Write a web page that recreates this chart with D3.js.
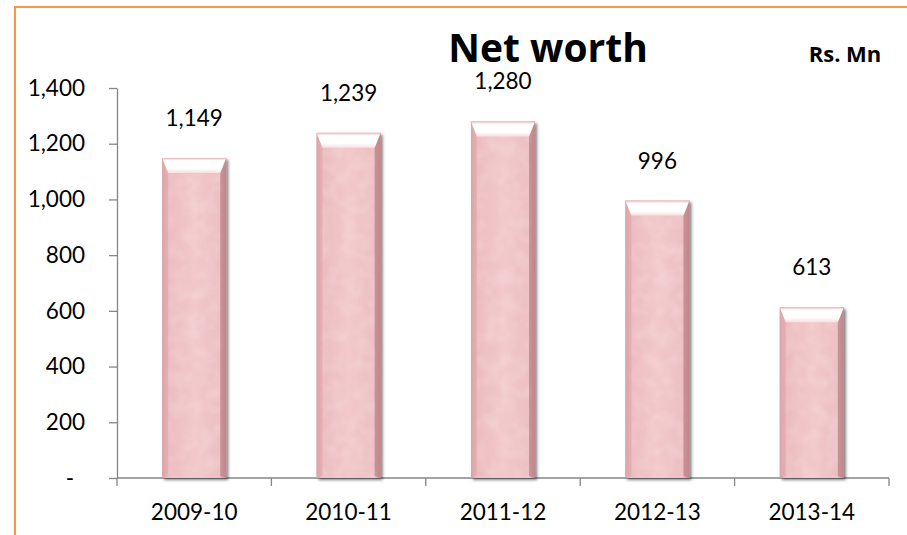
<!DOCTYPE html>
<html>
<head>
<meta charset="utf-8">
<script src="https://cdn.jsdelivr.net/npm/d3@7"></script>
<style>
  html, body { margin: 0; padding: 0; background: #fff; }
  svg { display: block; }
  text { font-family: Lato, "Open Sans", sans-serif; fill: #000; }
</style>
</head>
<body>
<div id="chart"></div>
<script>
/* Net worth — bar chart, Rs. Mn */

const years = ["2009-10", "2010-11", "2011-12", "2012-13", "2013-14"];
const netWorth = [1149, 1239, 1280, 996, 613];
const yTicks = [0, 200, 400, 600, 800, 1000, 1200, 1400];

const W = 907, H = 535;
const margin = { top: 88, right: 18, bottom: 57, left: 117 };

const svg = d3.select("#chart").append("svg")
  .attr("width", W).attr("height", H)
  .attr("viewBox", `0 0 ${W} ${H}`);

const defs = svg.append("defs");

/* bar body: soft pink, darker towards the sides */
const bodyGrad = defs.append("linearGradient")
  .attr("id", "body").attr("x1", 0).attr("x2", 1).attr("y1", 0).attr("y2", 0);
bodyGrad.append("stop").attr("offset", "0%").attr("stop-color", "#d29ca1");
bodyGrad.append("stop").attr("offset", "8%").attr("stop-color", "#ecbcbf");
bodyGrad.append("stop").attr("offset", "50%").attr("stop-color", "#f2c8ca");
bodyGrad.append("stop").attr("offset", "90%").attr("stop-color", "#edc0c3");
bodyGrad.append("stop").attr("offset", "100%").attr("stop-color", "#c28a8f");

/* top bevel: pink rim, then a strong white highlight */
const topGrad = defs.append("linearGradient")
  .attr("id", "bevelTop")
  .attr("x1", 0).attr("x2", 0).attr("y1", 0).attr("y2", 1);
topGrad.append("stop").attr("offset", "0%").attr("stop-color", "#e8b6b9");
topGrad.append("stop").attr("offset", "18%").attr("stop-color", "#ffffff");
topGrad.append("stop").attr("offset", "70%").attr("stop-color", "#ffffff");
topGrad.append("stop").attr("offset", "100%").attr("stop-color", "#f7dfe0");

const shadow = defs.append("filter").attr("id", "shadow")
  .attr("x", "-20%").attr("y", "-10%").attr("width", "150%").attr("height", "130%");
shadow.append("feDropShadow")
  .attr("dx", 2).attr("dy", 2).attr("stdDeviation", 1.8)
  .attr("flood-color", "#000").attr("flood-opacity", 0.5);

const noise = defs.append("filter").attr("id", "mottle");
noise.append("feTurbulence").attr("type", "fractalNoise")
  .attr("baseFrequency", 0.07).attr("numOctaves", 2).attr("seed", 4).attr("result", "n");
noise.append("feColorMatrix").attr("in", "n").attr("type", "matrix")
  .attr("values", "0 0 0 0 1  0 0 0 0 1  0 0 0 0 1  0 0 0 -1.6 1.0").attr("result", "m");
noise.append("feComposite").attr("in", "m").attr("in2", "SourceGraphic").attr("operator", "in");

/* orange frame */
svg.append("rect")
  .attr("x", 15).attr("y", 7)
  .attr("width", W).attr("height", H)
  .attr("fill", "none")
  .attr("stroke", "#f79646").attr("stroke-width", 2);

/* scales */
const x = d3.scaleBand()
  .domain(years)
  .range([margin.left, W - margin.right])
  .paddingInner(0.585).paddingOuter(0.2925);

const y = d3.scaleLinear()
  .domain([0, 1400])
  .range([H - margin.bottom, margin.top]);

const axisColor = "#868686";
const fontSize = "22.5px";

/* y axis */
svg.append("g")
  .attr("transform", `translate(${margin.left},0)`)
  .call(d3.axisLeft(y).tickValues(yTicks).tickSize(8).tickSizeOuter(0)
    .tickFormat(d => d === 0 ? "-" : d3.format(",")(d)))
  .call(g => g.select(".domain").attr("stroke", axisColor).attr("stroke-width", 1.3))
  .call(g => g.selectAll(".tick line").attr("stroke", axisColor).attr("stroke-width", 1.3))
  .call(g => g.selectAll(".tick text")
    .attr("x", d => d === 0 ? -43 : -32)
    .style("font-size", fontSize).attr("fill", "#000"));

/* x axis with ticks between categories */
const xBoundaries = d3.range(years.length + 1)
  .map(i => margin.left + i * x.step());

const xAxis = svg.append("g")
  .attr("transform", `translate(0,${y(0)})`);
xAxis.append("line")
  .attr("x1", margin.left).attr("x2", W - margin.right)
  .attr("stroke", axisColor).attr("stroke-width", 1.3);
xAxis.selectAll("line.tk")
  .data(xBoundaries)
  .join("line").attr("class", "tk")
  .attr("x1", d => d).attr("x2", d => d)
  .attr("y1", 0).attr("y2", 8)
  .attr("stroke", axisColor).attr("stroke-width", 1.3);
xAxis.selectAll("text")
  .data(years)
  .join("text")
  .attr("x", d => x(d) + x.bandwidth() / 2)
  .attr("y", 42)
  .attr("text-anchor", "middle")
  .style("font-size", fontSize)
  .text(d => d);

/* bars */
const data = years.map((yr, i) => ({ yr, v: netWorth[i] }));
const bars = svg.append("g").selectAll("g.bar")
  .data(data)
  .join("g").attr("class", "bar");

bars.append("rect")
  .attr("x", d => x(d.yr))
  .attr("y", d => y(d.v))
  .attr("width", x.bandwidth())
  .attr("height", d => y(0) - y(d.v))
  .attr("fill", "url(#body)")
  .attr("filter", "url(#shadow)");

bars.append("rect")
  .attr("x", d => x(d.yr) + 3)
  .attr("y", d => y(d.v))
  .attr("width", x.bandwidth() - 6)
  .attr("height", d => y(0) - y(d.v))
  .attr("fill", "#fff")
  .attr("opacity", 0.22)
  .attr("filter", "url(#mottle)");

const bevel = 15, side = 6;
/* left edge */
bars.append("path")
  .attr("d", d => {
    const x0 = x(d.yr), t = y(d.v), b = y(0);
    return `M${x0},${t}L${x0 + side},${t + bevel}L${x0 + side},${b - 2}L${x0},${b}Z`;
  })
  .attr("fill", "#dfa8ac").attr("opacity", 0.7);
/* right edge */
bars.append("path")
  .attr("d", d => {
    const x1 = x(d.yr) + x.bandwidth(), t = y(d.v), b = y(0);
    return `M${x1},${t}L${x1 - side},${t + bevel}L${x1 - side},${b - 2}L${x1},${b}Z`;
  })
  .attr("fill", "#bf878c").attr("opacity", 0.8);
/* top bevel */
bars.append("path")
  .attr("d", d => {
    const x0 = x(d.yr), x1 = x0 + x.bandwidth(), t = y(d.v);
    return `M${x0},${t}L${x1},${t}L${x1 - side},${t + bevel}L${x0 + side},${t + bevel}Z`;
  })
  .attr("fill", "url(#bevelTop)");

/* value labels */
svg.append("g").selectAll("text")
  .data(data)
  .join("text")
  .attr("x", d => x(d.yr) + x.bandwidth() / 2)
  .attr("y", d => y(d.v) - 32)
  .attr("text-anchor", "middle")
  .style("font-size", fontSize)
  .text(d => d3.format(",")(d.v));

/* title and unit */
svg.append("text")
  .attr("x", 548).attr("y", 62)
  .attr("text-anchor", "middle")
  .style("font-size", "39px").style("font-weight", "bold")
  .style("font-family", "'Open Sans', sans-serif")
  .text("Net worth");

svg.append("text")
  .attr("x", 845).attr("y", 62)
  .attr("text-anchor", "middle")
  .style("font-size", "22px").style("font-weight", "bold")
  .style("font-family", "'Open Sans', sans-serif")
  .text("Rs. Mn");
</script>
</body>
</html>
